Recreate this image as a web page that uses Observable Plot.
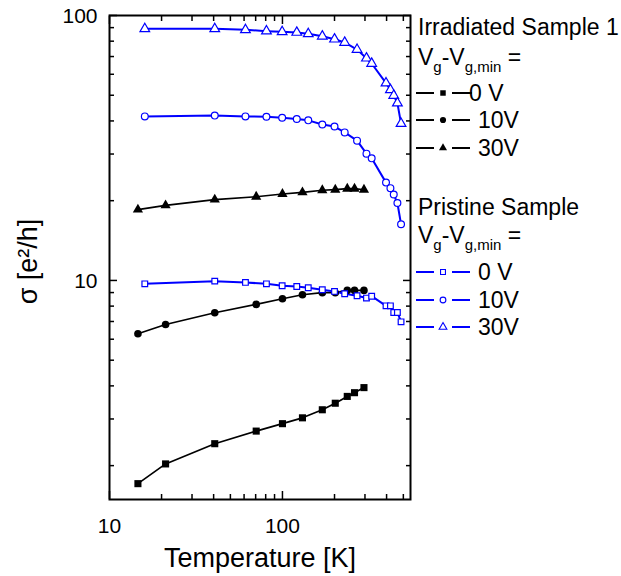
<!DOCTYPE html>
<html><head><meta charset="utf-8">
<script src="https://cdn.jsdelivr.net/npm/d3@7"></script>
<script src="https://cdn.jsdelivr.net/npm/@observablehq/plot@0.6"></script>
<style>
body{margin:0;background:#fff;}
#chart{position:relative;width:621px;height:576px;}
</style></head><body><div id="chart"></div>
<script>
// Temperatures [K]
const tIrradiated = [14.6, 21.1, 40.6, 70.5, 100, 130.5, 170, 202, 237, 261, 296];
const tPristine = [16.0, 40.6, 61.1, 80.8, 99.6, 121, 141, 170, 200, 229, 270, 306, 328, 397, 421, 440, 462, 485];

// Irradiated Sample 1 conductivity [e^2/h]
const irr0V = [1.71, 2.03, 2.42, 2.70, 2.88, 3.03, 3.25, 3.44, 3.65, 3.77, 3.94];
const irr10V = [6.29, 6.82, 7.55, 8.12, 8.53, 8.83, 8.99, 8.99, 9.17, 9.17, 9.17];
const irr30V = [18.5, 19.2, 20.2, 20.7, 21.2, 21.5, 21.9, 22.0, 22.2, 22.2, 22.0];

// Pristine Sample conductivity [e^2/h]
const pri0V = [9.71, 9.94, 9.83, 9.71, 9.55, 9.49, 9.38, 9.22, 9.09, 8.91, 8.75, 8.58, 8.72, 8.02, 8.02, 7.57, 7.57, 6.98];
const pri10V = [41.6, 41.9, 41.6, 41.5, 41.1, 40.7, 40.2, 38.8, 38.1, 36.2, 33.7, 30.1, 28.9, 23.4, 22.3, 21.1, 19.6, 16.3];
const pri30V = [89.1, 89.1, 88.3, 87.3, 86.8, 86.3, 85.3, 83.5, 81.4, 79.1, 74.4, 69.0, 65.9, 55.6, 52.4, 49.9, 46.7, 39.1];

// Ticks
const xMajor = [10, 100];
const xMinor = [20, 30, 40, 50, 60, 70, 80, 90, 200, 300, 400, 500];
const yMajor = [10, 100];
const yMinor = [2, 3, 4, 5, 6, 7, 8, 9, 20, 30, 40, 50, 60, 70, 80, 90];

const xTitle = "Temperature [K]";
const yTitle = "σ [e²/h]";

const BLUE = "#0000ff";
const FONT = "'Liberation Sans', Arial, Helvetica, sans-serif";
const series = [
  {T: tIrradiated, v: irr0V, color: "black", open: false, symbol: "square", r: 4.0},
  {T: tIrradiated, v: irr10V, color: "black", open: false, symbol: "circle", r: 3.8},
  {T: tIrradiated, v: irr30V, color: "black", open: false, symbol: "triangle", r: 3.8},
  {T: tPristine, v: pri0V, color: BLUE, open: true, symbol: "square", r: 3.2},
  {T: tPristine, v: pri10V, color: BLUE, open: true, symbol: "circle", r: 3.4},
  {T: tPristine, v: pri30V, color: BLUE, open: true, symbol: "triangle", r: 3.6}
];

const marks = [];
for (const s of series) {
  const data = s.T.map((t, i) => ({T: t, s: s.v[i]}));
  marks.push(Plot.line(data, {x: "T", y: "s", stroke: s.color, strokeWidth: s.open ? 2 : 1.7}));
}
for (const s of series) {
  const data = s.T.map((t, i) => ({T: t, s: s.v[i]}));
  marks.push(Plot.dot(data, {
    x: "T", y: "s", symbol: s.symbol, r: s.r,
    fill: s.open ? "white" : s.color,
    stroke: s.open ? s.color : "none",
    strokeWidth: s.open ? 1.2 : 0
  }));
}

const tickOpts = {fill: "none", label: null, strokeWidth: 1.5, stroke: "black"};
marks.push(
  Plot.frame({stroke: "black", strokeWidth: 2}),
  Plot.axisX(xMajor, {...tickOpts, anchor: "bottom", tickSize: -8}),
  Plot.axisX(xMinor, {...tickOpts, anchor: "bottom", tickSize: -5}),
  Plot.axisX(xMajor, {...tickOpts, anchor: "top", tickSize: -8}),
  Plot.axisX(xMinor, {...tickOpts, anchor: "top", tickSize: -5}),
  Plot.axisY(yMajor, {...tickOpts, anchor: "left", tickSize: -8}),
  Plot.axisY(yMinor, {...tickOpts, anchor: "left", tickSize: -5}),
  Plot.axisY(yMajor, {...tickOpts, anchor: "right", tickSize: -8}),
  Plot.axisY(yMinor, {...tickOpts, anchor: "right", tickSize: -5}),
  Plot.axisX(xMajor, {anchor: "bottom", tickSize: 0, tickPadding: 19, label: null, fontSize: 21, fill: "black", tickFormat: d => String(d)}),
  Plot.axisY(yMajor, {anchor: "left", tickSize: 0, tickPadding: 12, label: null, fontSize: 21, fill: "black", dy: 1, tickFormat: d => String(d)}),
  Plot.text([xTitle], {frameAnchor: "bottom", dy: 59, textAnchor: "middle", lineAnchor: "middle", fontSize: 27, fill: "black"}),
  Plot.text([yTitle], {frameAnchor: "left", dx: -81, dy: 4, rotate: -90, textAnchor: "middle", lineAnchor: "middle", fontSize: 27, fill: "black"})
);

const plot = Plot.plot({
  width: 621, height: 576,
  marginLeft: 109, marginRight: 211, marginTop: 15, marginBottom: 77,
  style: {fontFamily: FONT, fontSize: "21px", color: "black", background: "white", overflow: "visible"},
  x: {type: "log", domain: [10, 550]},
  y: {type: "log", domain: [1.49, 100]},
  marks
});
document.getElementById("chart").appendChild(plot);

// Legend
const legendGroups = [
  {title: "Irradiated Sample 1", titleY: 35, vY: 65, color: "black", open: false,
   entries: [{sym: d3.symbolSquare, label: "0 V", y: 93, tx: 469, size: 30},
             {sym: d3.symbolCircle, label: "10V", y: 120, tx: 478, size: 30},
             {sym: d3.symbolTriangle, label: "30V", y: 148, tx: 478, size: 28}]},
  {title: "Pristine Sample", titleY: 215, vY: 243, color: BLUE, open: true,
   entries: [{sym: d3.symbolSquare, label: "0 V", y: 272, tx: 478, size: 24},
             {sym: d3.symbolCircle, label: "10V", y: 300, tx: 478, size: 26},
             {sym: d3.symbolTriangle, label: "30V", y: 327, tx: 478, size: 26}]}
];
const svg = d3.select(plot);
const lg = svg.append("g").attr("font-family", FONT).attr("fill", "black").attr("text-anchor", "start");
for (const g of legendGroups) {
  lg.append("text").attr("x", 418).attr("y", g.titleY).attr("font-size", 23).text(g.title);
  const vt = lg.append("text").attr("x", 418).attr("y", g.vY).attr("font-size", 23);
  vt.append("tspan").text("V");
  vt.append("tspan").attr("font-size", 15).attr("dy", 7).text("g");
  vt.append("tspan").attr("dy", -7).text("-V");
  vt.append("tspan").attr("font-size", 15).attr("dy", 7).text("g,min");
  vt.append("tspan").attr("dy", -7).text(" =");
  for (const e of g.entries) {
    lg.append("line").attr("x1", 416).attr("x2", 434).attr("y1", e.y).attr("y2", e.y).attr("stroke", g.color).attr("stroke-width", 2);
    lg.append("line").attr("x1", 452).attr("x2", e.tx < 470 ? 472 : 470).attr("y1", e.y).attr("y2", e.y).attr("stroke", g.color).attr("stroke-width", 2);
    lg.append("path").attr("d", d3.symbol(e.sym, e.size)())
      .attr("transform", `translate(443,${e.y})`)
      .attr("fill", g.open ? "white" : g.color)
      .attr("stroke", g.open ? g.color : "none").attr("stroke-width", 1.1);
    lg.append("text").attr("x", e.tx).attr("y", e.y + 8).attr("font-size", 23).text(e.label);
  }
}
</script></body></html>
